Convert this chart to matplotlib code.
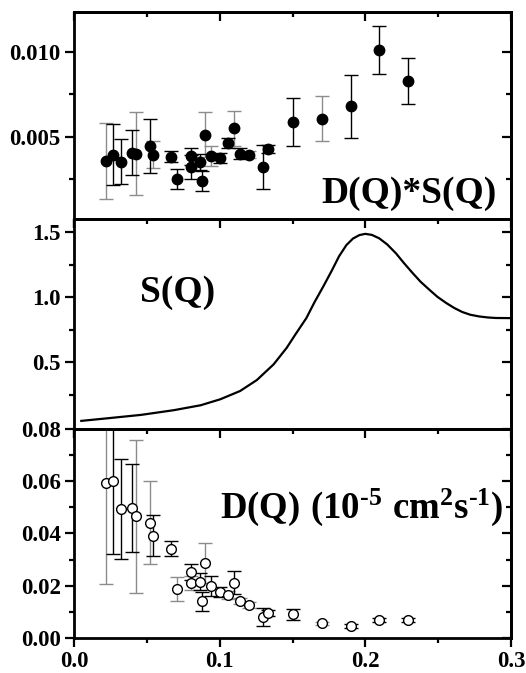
import numpy as np
import matplotlib
matplotlib.use('Agg')
import matplotlib.pyplot as plt
from matplotlib.ticker import MultipleLocator, FixedLocator, FormatStrFormatter, NullFormatter

plt.rcParams['font.family'] = ['Liberation Serif', 'DejaVu Serif']
plt.rcParams['font.weight'] = 'bold'
plt.rcParams['mathtext.fontset'] = 'custom'
plt.rcParams['mathtext.rm'] = 'Liberation Serif:bold'
plt.rcParams['mathtext.bf'] = 'Liberation Serif:bold'

# Q values shared by both data panels
q = np.array([0.022, 0.027, 0.032, 0.040, 0.0425, 0.052, 0.054, 0.0665, 0.071,
              0.080, 0.080, 0.0865, 0.088, 0.090, 0.094, 0.100, 0.106, 0.1095,
              0.114, 0.120, 0.130, 0.1335, 0.150, 0.170, 0.190, 0.2095, 0.229])

# top panel: D(Q)*S(Q)
ds = np.array([0.00353, 0.00393, 0.00349, 0.00403, 0.00399, 0.00446, 0.00393,
               0.00379, 0.00248, 0.00383, 0.00320, 0.00349, 0.00238, 0.00512,
               0.00383, 0.00373, 0.00462, 0.00548, 0.00399, 0.00393, 0.00320,
               0.00427, 0.00585, 0.00607, 0.00680, 0.01014, 0.00829])
ds_err = np.array([0.00226, 0.00182, 0.00134, 0.00134, 0.00247, 0.00160, 0.00080,
                   0.00033, 0.00058, 0.00050, 0.00070, 0.00050, 0.00060, 0.00132,
                   0.00060, 0.00030, 0.00030, 0.00104, 0.00030, 0.00020, 0.00130,
                   0.00025, 0.00142, 0.00131, 0.00188, 0.00143, 0.00135])
ds_gray = np.array([1, 0, 0, 0, 1, 0, 1, 0, 0, 0, 0, 0, 0, 1, 1, 0, 0, 1, 0, 1,
                    0, 0, 0, 1, 0, 0, 0], dtype=bool)

# bottom panel: D(Q)
d = np.array([0.0592, 0.0602, 0.0494, 0.0498, 0.0466, 0.0441, 0.0392, 0.0342,
              0.0189, 0.0253, 0.0211, 0.0215, 0.0141, 0.0288, 0.0199, 0.0176,
              0.0166, 0.0212, 0.0141, 0.0126, 0.0079, 0.0096, 0.0090, 0.0056,
              0.0046, 0.0069, 0.0069])
d_err = np.array([0.0384, 0.0279, 0.0190, 0.0167, 0.0292, 0.0159, 0.0078, 0.0030,
                  0.0046, 0.0032, 0.0027, 0.0033, 0.0036, 0.0076, 0.0038, 0.0020,
                  0.0015, 0.0043, 0.0012, 0.0010, 0.0034, 0.0012, 0.0020, 0.0006,
                  0.0008, 0.0009, 0.0009])
d_gray = np.array([1, 0, 0, 0, 1, 1, 0, 0, 1, 0, 1, 0, 0, 1, 0, 0, 1, 0, 1, 1,
                   0, 0, 0, 1, 0, 0, 0], dtype=bool)

# middle panel: S(Q) curve
sq_q = [0.005, 0.023, 0.046, 0.0685, 0.087, 0.1005, 0.114, 0.1255, 0.137,
        0.146, 0.152, 0.1595, 0.165, 0.171, 0.177, 0.182, 0.187, 0.1915,
        0.196, 0.200, 0.2045, 0.2095, 0.215, 0.221, 0.2265, 0.2325, 0.238,
        0.244, 0.2495, 0.2555, 0.261, 0.2665, 0.272, 0.278, 0.284, 0.2895, 0.2995]
sq = [0.052, 0.072, 0.098, 0.134, 0.172, 0.218, 0.281, 0.365, 0.485,
      0.612, 0.715, 0.840, 0.960, 1.080, 1.205, 1.315, 1.400, 1.450,
      1.477, 1.486, 1.478, 1.452, 1.405, 1.337, 1.262, 1.185, 1.118,
      1.057, 1.003, 0.956, 0.918, 0.887, 0.866, 0.853, 0.845, 0.841, 0.840]

fig = plt.figure(figsize=(5.26, 6.73), dpi=100)
L, W = 0.1407, 0.8308
ax_top = fig.add_axes([L, 0.6746, W, 0.3076])
ax_mid = fig.add_axes([L, 0.3626, W, 0.3120])
ax_bot = fig.add_axes([L, 0.0520, W, 0.3106])

GRAY = '0.55'


def style(ax, ymaj, ymin, fmt, ylim, xlabels=False):
    ax.set_xlim(0, 0.3)
    ax.set_ylim(*ylim)
    for s in ax.spines.values():
        s.set_linewidth(2.0)
    ax.xaxis.set_major_locator(MultipleLocator(0.1))
    ax.xaxis.set_minor_locator(MultipleLocator(0.05))
    ax.yaxis.set_major_locator(FixedLocator(ymaj))
    ax.yaxis.set_minor_locator(FixedLocator(ymin))
    ax.yaxis.set_major_formatter(FormatStrFormatter(fmt))
    ax.xaxis.set_major_formatter(FormatStrFormatter('%.1f'))
    ax.tick_params(which='both', direction='out', width=1.6, labelsize=16.5, pad=3)
    ax.tick_params(which='major', length=6.5)
    ax.tick_params(which='minor', length=3.5)
    if not xlabels:
        ax.tick_params(labelbottom=False)
    # mirrored ticks pointing inward on top and right
    sx = ax.secondary_xaxis('top')
    sx.xaxis.set_major_locator(MultipleLocator(0.1))
    sx.xaxis.set_minor_locator(MultipleLocator(0.05))
    sx.xaxis.set_major_formatter(NullFormatter())
    sx.tick_params(which='both', direction='in', width=1.6)
    sx.tick_params(which='major', length=6.5)
    sx.tick_params(which='minor', length=3.5)
    sx.spines['top'].set_linewidth(2.0)
    sy = ax.secondary_yaxis('right')
    sy.yaxis.set_major_locator(FixedLocator(ymaj))
    sy.yaxis.set_minor_locator(FixedLocator(ymin))
    sy.yaxis.set_major_formatter(NullFormatter())
    sy.tick_params(which='both', direction='in', width=1.6)
    sy.tick_params(which='major', length=6.5)
    sy.tick_params(which='minor', length=3.5)
    sy.spines['right'].set_linewidth(2.0)
    for lab in ax.get_xticklabels() + ax.get_yticklabels():
        lab.set_fontweight('bold')


# top panel
for mask, col in [(ds_gray, GRAY), (~ds_gray, 'black')]:
    ax_top.errorbar(q[mask], ds[mask], yerr=ds_err[mask], fmt='none',
                    ecolor=col, elinewidth=1.0, capsize=5, capthick=1.0)
ax_top.plot(q, ds, 'o', color='black', markersize=7.5, zorder=3)
style(ax_top, [0.005, 0.010], [0.0025, 0.0075], '%.3f', (0.0001, 0.0124))
ax_top.text(0.968, 0.077, 'D(Q)*S(Q)', transform=ax_top.transAxes,
            ha='right', va='baseline', fontsize=27, fontweight='bold')

# middle panel
ax_mid.plot(sq_q, sq, color='black', lw=1.6)
style(ax_mid, [0.5, 1.0, 1.5], [0.25, 0.75, 1.25], '%.1f', (-0.01, 1.6))
ax_mid.text(0.151, 0.605, 'S(Q)', transform=ax_mid.transAxes,
            ha='left', va='baseline', fontsize=27, fontweight='bold')

# bottom panel
for mask, col in [(d_gray, GRAY), (~d_gray, 'black')]:
    ax_bot.errorbar(q[mask], d[mask], yerr=d_err[mask], fmt='none',
                    ecolor=col, elinewidth=1.0, capsize=5, capthick=1.0)
ax_bot.plot(q, d, 'o', mfc='white', mec='black', mew=1.0, markersize=7, zorder=3)
style(ax_bot, [0.0, 0.02, 0.04, 0.06, 0.08], [0.01, 0.03, 0.05, 0.07], '%.2f',
      (0, 0.08), xlabels=True)
ax_bot.text(0.982, 0.574, '$\\mathbf{D(Q)\\;(10^{\u20105}\\;cm^{2}s^{\u20101})}$',
            transform=ax_bot.transAxes, ha='right', va='baseline', fontsize=26.5)

fig.savefig('out.png', dpi=100)
